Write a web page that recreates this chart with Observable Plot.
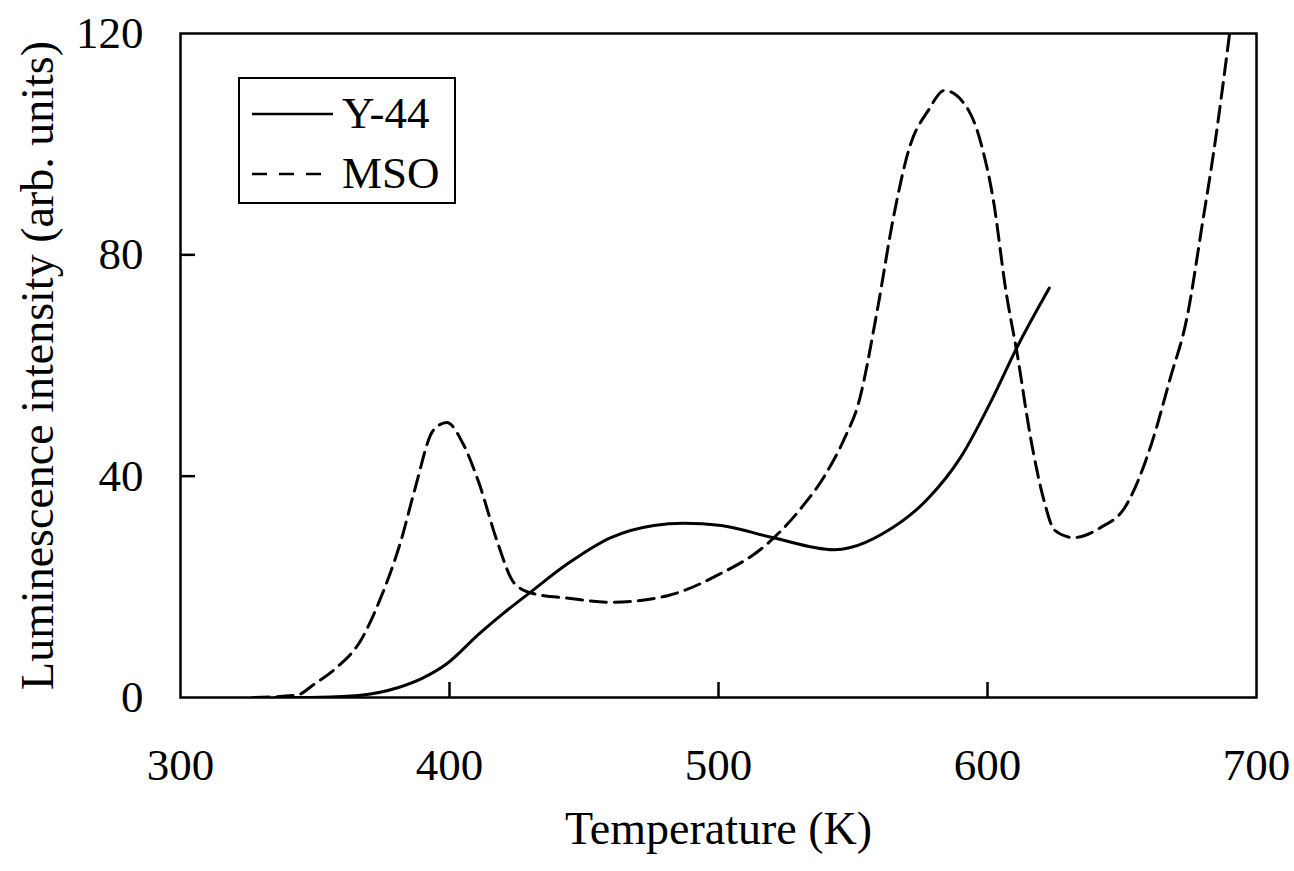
<!DOCTYPE html>
<html>
<head>
<meta charset="utf-8">
<script src="https://cdn.jsdelivr.net/npm/d3@7"></script>
<script src="https://cdn.jsdelivr.net/npm/@observablehq/plot@0.6"></script>
<style>
  html, body { margin: 0; padding: 0; background: #fff; }
  #wrap { position: relative; width: 1294px; height: 871px; }
  #legend { position: absolute; left: 0; top: 0; pointer-events: none; }
</style>
</head>
<body>
<div id="wrap"></div>
<script>
// ---- data ----
const seriesNames = ["Y-44", "MSO"];

const y44Temp = [335, 345, 360, 367, 381, 390, 399, 411, 420, 430, 444, 460, 476, 487, 501, 520, 543, 549, 561, 578, 590, 602, 611, 623];
const y44Value = [0, 0, 0.2, 0.4, 1.8, 3.5, 6.1, 11.5, 15.2, 19, 24.2, 28.9, 31.1, 31.5, 31.1, 28.9, 26.7, 27.1, 29.6, 36, 43.4, 54.2, 63.3, 74];

const msoTemp = [327, 343, 350, 358, 367, 374, 382, 387, 394, 399, 405, 411, 418, 424, 431, 445, 460, 481, 500, 517, 530, 540, 547, 552, 559, 565, 571, 578, 584, 593, 598, 602, 607, 611, 616, 621, 625, 632, 642, 651, 661, 668, 674, 680, 684, 690];
const msoValue = [0, 0.4, 2.5, 5.4, 10.3, 17.5, 28.4, 37.4, 48.3, 49.7, 45.9, 38.7, 27.8, 20.7, 18.8, 17.9, 17.2, 18.4, 22.2, 27.3, 33.8, 40.5, 47, 53.1, 69.9, 86.7, 99.4, 106.1, 109.7, 106.1, 99.4, 90.4, 73, 62.2, 47, 35.6, 30.2, 28.9, 30.7, 34.3, 45.9, 57.8, 68.3, 86, 98.3, 120];

const xTicks = [300, 400, 500, 600, 700];
const yTicks = [0, 40, 80, 120];
const xInnerTicks = [400, 500, 600];
const yInnerTicks = [40, 80];

const xLabel = "Temperature (K)";
const yLabel = "Luminescence intensity (arb. units)";

// ---- build tables ----
const y44 = y44Temp.map((t, i) => ({T: t, v: y44Value[i]}));
const mso = msoTemp.map((t, i) => ({T: t, v: msoValue[i]}));

const FONT = "'Liberation Serif', 'Times New Roman', serif";
const dash = "16,8";

const chart = Plot.plot({
  width: 1294,
  height: 871,
  marginLeft: 180,
  marginRight: 38,
  marginTop: 33,
  marginBottom: 174,
  style: {fontFamily: FONT, fontSize: "45px", background: "#fff", color: "#000"},
  x: {domain: [300, 700]},
  y: {domain: [0, 120]},
  marks: [
    Plot.axisX({ticks: xTicks, tickSize: 0, tickPadding: 51, label: null, fontSize: 45}),
    Plot.axisY({ticks: yTicks, tickSize: 0, tickPadding: 37, label: null, fontSize: 45}),
    Plot.ruleX(xInnerTicks, {x: d => d, y1: 0, y2: 0, insetTop: -15, stroke: "#000", strokeWidth: 2.5}),
    Plot.ruleY(yInnerTicks, {y: d => d, x1: 300, x2: 300, insetRight: -15, stroke: "#000", strokeWidth: 2.5}),
    Plot.line(mso, {x: "T", y: "v", stroke: "#000", strokeWidth: 3, strokeDasharray: dash, curve: "monotone-x", clip: true}),
    Plot.line(y44, {x: "T", y: "v", stroke: "#000", strokeWidth: 3, curve: "monotone-x", clip: true}),
    Plot.frame({stroke: "#000", strokeWidth: 2.5}),
    Plot.text([xLabel], {frameAnchor: "bottom", dy: 146, lineAnchor: "bottom", textAnchor: "middle", fontSize: 46, fill: "#000"}),
    Plot.text([yLabel], {frameAnchor: "left", dx: -128, rotate: -90, lineAnchor: "bottom", textAnchor: "middle", fontSize: 46, fill: "#000"})
  ]
});
document.getElementById("wrap").appendChild(chart);

// ---- legend overlay ----
const legendStyles = [{dash: null}, {dash: "15,12"}];
const lg = d3.select("#wrap").append("svg")
  .attr("id", "legend")
  .attr("width", 1294).attr("height", 871);
lg.append("rect")
  .attr("x", 239).attr("y", 78).attr("width", 216).attr("height", 125)
  .attr("fill", "#fff").attr("stroke", "#000").attr("stroke-width", 2);
seriesNames.forEach((name, i) => {
  const cy = 114 + i * 60;
  lg.append("line")
    .attr("x1", 252).attr("x2", 333).attr("y1", cy).attr("y2", cy)
    .attr("stroke", "#000").attr("stroke-width", 2.5)
    .attr("stroke-dasharray", legendStyles[i].dash);
  lg.append("text")
    .attr("x", 342).attr("y", cy + 14)
    .attr("font-family", FONT).attr("font-size", 45)
    .text(name);
});
</script>
</body>
</html>
